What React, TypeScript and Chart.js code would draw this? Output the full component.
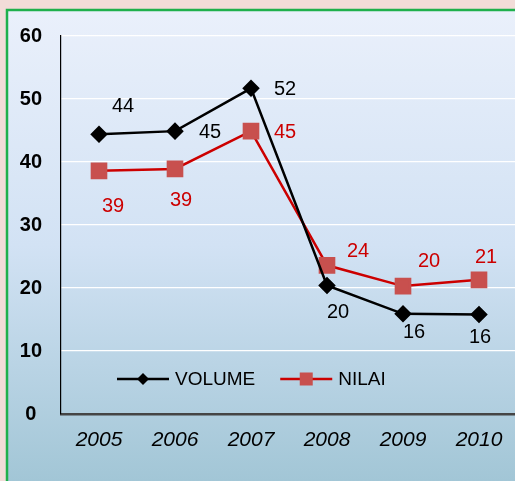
import React, { useEffect, useRef } from "react";
import { Chart, registerables } from "chart.js";

Chart.register(...registerables);

const years = ["2005", "2006", "2007", "2008", "2009", "2010"];
const volume = [44.4, 44.9, 51.7, 20.4, 15.9, 15.8];
const nilai = [38.6, 38.9, 44.9, 23.6, 20.3, 21.3];
const volumeLabels = ["44", "45", "52", "20", "16", "16"];
const nilaiLabels = ["39", "39", "45", "24", "20", "21"];
const yTicks = [0, 10, 20, 30, 40, 50, 60];

// label placement (text-center offsets from each point), style only
const volumeLabelOffsets = [[24, -28], [35, 1], [34, 1], [11, 27], [11, 19], [1, 23]];
const nilaiLabelOffsets = [[14, 36], [6, 32], [34, 1], [31, -14], [26, -25], [7, -22]];

const FONT = "'Liberation Sans', Arial, sans-serif";
const RED = "#cc0000";
const SQUARE = "#c8504e";

const bgPlugin = {
  id: "bg",
  beforeDraw(chart: any) {
    const { ctx, width, height } = chart;
    ctx.save();
    ctx.fillStyle = "#f2dcd8";
    ctx.fillRect(0, 0, width, height);
    const g = ctx.createLinearGradient(0, 10, 0, height);
    g.addColorStop(0, "#eaf0fb");
    g.addColorStop(0.5, "#d2e2f4");
    g.addColorStop(1, "#a2c6d6");
    ctx.fillStyle = g;
    ctx.fillRect(7, 10, width, height);
    ctx.strokeStyle = "#1fb04c";
    ctx.lineWidth = 2.5;
    ctx.strokeRect(7, 10, width + 20, height + 20);
    ctx.restore();
  },
};

const labelPlugin = {
  id: "labels",
  afterDatasetsDraw(chart: any) {
    const { ctx, chartArea } = chart;
    ctx.save();
    ctx.font = `20px ${FONT}`;
    ctx.textAlign = "center";
    ctx.textBaseline = "middle";
    const sets = [
      { labels: volumeLabels, offs: volumeLabelOffsets, color: "#000000" },
      { labels: nilaiLabels, offs: nilaiLabelOffsets, color: RED },
    ];
    sets.forEach((s, di) => {
      const meta = chart.getDatasetMeta(di);
      ctx.fillStyle = s.color;
      meta.data.forEach((pt: any, i: number) => {
        ctx.fillText(s.labels[i], pt.x + s.offs[i][0], pt.y + s.offs[i][1]);
      });
    });

    // legend inside plot area
    const ly = chartArea.bottom - 35;
    let x = chartArea.left + 56;
    ctx.textAlign = "left";
    ctx.font = `19px ${FONT}`;
    chart.data.datasets.forEach((ds: any) => {
      ctx.strokeStyle = ds.borderColor;
      ctx.lineWidth = 2.5;
      ctx.beginPath();
      ctx.moveTo(x, ly);
      ctx.lineTo(x + 52, ly);
      ctx.stroke();
      ctx.fillStyle = ds.pointBackgroundColor;
      const cx = x + 26;
      if (ds.pointStyle === "rectRot") {
        const r = 6;
        ctx.beginPath();
        ctx.moveTo(cx, ly - r);
        ctx.lineTo(cx + r, ly);
        ctx.lineTo(cx, ly + r);
        ctx.lineTo(cx - r, ly);
        ctx.closePath();
        ctx.fill();
      } else {
        ctx.fillRect(cx - 6.5, ly - 6.5, 13, 13);
      }
      ctx.fillStyle = "#000000";
      const tx = x + 58;
      ctx.fillText(ds.label, tx, ly + 1);
      x = tx + ctx.measureText(ds.label).width + 25;
    });
    ctx.restore();
  },
};

export default function App() {
  const ref = useRef<HTMLCanvasElement | null>(null);
  useEffect(() => {
    if (!ref.current) return;
    const chart = new Chart(ref.current, {
      type: "line",
      data: {
        labels: years,
        datasets: [
          {
            label: "VOLUME",
            data: volume,
            borderColor: "#000000",
            backgroundColor: "#000000",
            pointBackgroundColor: "#000000",
            pointBorderColor: "#000000",
            borderWidth: 2.5,
            pointStyle: "rectRot",
            pointRadius: 7,
            tension: 0,
          },
          {
            label: "NILAI",
            data: nilai,
            borderColor: RED,
            backgroundColor: SQUARE,
            pointBackgroundColor: SQUARE,
            pointBorderColor: SQUARE,
            borderWidth: 2.5,
            pointStyle: "rect",
            pointRadius: 10,
            tension: 0,
          },
        ],
      } as any,
      options: {
        animation: false,
        responsive: false,
        layout: { padding: { top: 36, right: 23, bottom: 0, left: 0 } },
        plugins: { legend: { display: false }, tooltip: { enabled: false } },
        scales: {
          x: {
            offset: true,
            grid: { display: false, drawTicks: false },
            border: { display: true, color: "#454545", width: 2.5 },
            ticks: {
              color: "#000000",
              font: { family: FONT, size: 21, style: "italic" },
              padding: 14,
            },
            afterFit(scale: any) {
              scale.height = 67;
            },
          },
          y: {
            min: 0,
            max: 60,
            afterBuildTicks(scale: any) {
              scale.ticks = yTicks.map((v) => ({ value: v }));
            },
            grid: { color: "#ffffff", lineWidth: 1.2, drawTicks: false },
            border: { display: true, color: "#000000", width: 1.2 },
            ticks: {
              color: "#000000",
              font: { family: FONT, size: 20, weight: "bold" },
              crossAlign: "center",
              padding: 19,
            },
            afterFit(scale: any) {
              scale.width = 61;
            },
          },
        },
      } as any,
      plugins: [bgPlugin, labelPlugin],
    });
    return () => chart.destroy();
  }, []);
  return (
    <div style={{ position: "fixed", left: 0, top: 0, width: 515, height: 481, overflow: "hidden" }}>
      <canvas ref={ref} width={540} height={481} style={{ display: "block" }} />
    </div>
  );
}
